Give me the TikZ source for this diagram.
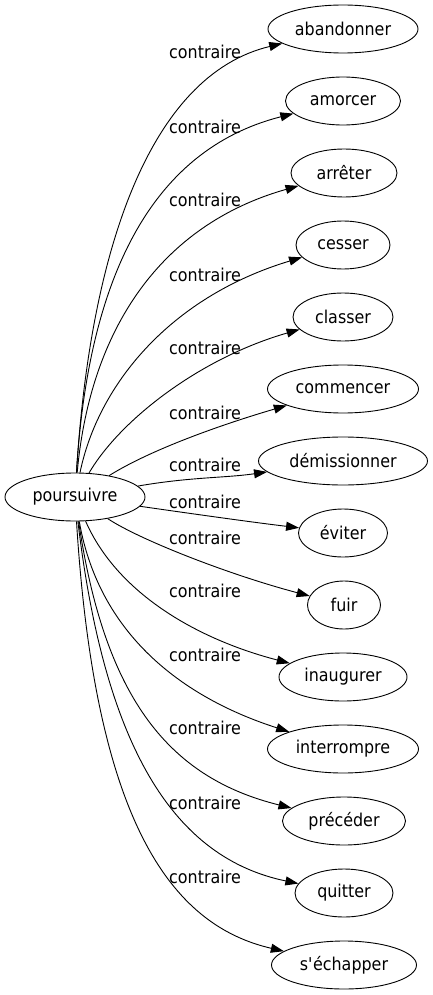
\documentclass[tikz,border=0pt]{standalone}
\usepackage{fontspec}
\setmainfont{DejaVu Sans}[FakeStretch=0.9]
\usetikzlibrary{shapes.geometric,arrows.meta}
\begin{document}
\begin{tikzpicture}[x=1pt,y=-1pt,
  every node/.style={font=\fontsize{17.7}{20}\selectfont},
  term/.style={ellipse,draw,line width=0.9pt,inner sep=0pt,minimum height=48pt},
  rel/.style={draw,line width=0.9pt,-{Triangle[length=13pt,width=9pt]}},
  lab/.style={inner sep=0pt}]
\useasboundingbox (0,0) rectangle (433,995);
\node[term,minimum width=140pt] (p) at (75,497) {poursuivre};
\node[term,minimum width=150pt] (t1) at (343,29) {abandonner};
\node[term,minimum width=115pt] (t2) at (343,101) {amorcer};
\node[term,minimum width=106pt] (t3) at (344,173) {arrêter};
\node[term,minimum width=94pt] (t4) at (343,245) {cesser};
\node[term,minimum width=100pt] (t5) at (343,317) {classer};
\node[term,minimum width=151pt] (t6) at (343,389) {commencer};
\node[term,minimum width=169pt] (t7) at (343,461) {démissionner};
\node[term,minimum width=89pt] (t8) at (343,533) {éviter};
\node[term,minimum width=73pt] (t9) at (344,605) {fuir};
\node[term,minimum width=128pt] (t10) at (343,677) {inaugurer};
\node[term,minimum width=151pt] (t11) at (343,749) {interrompre};
\node[term,minimum width=123pt] (t12) at (344,821) {précéder};
\node[term,minimum width=98pt] (t13) at (344,893) {quitter};
\node[term,minimum width=145pt] (t14) at (344,965) {s\textquotesingle échapper};
\draw[rel] (p) .. controls (90,250) and (150,75) .. (t1);
\draw[rel] (p) .. controls (88,280) and (150,150) .. (t2);
\draw[rel] (p) .. controls (90,330) and (160,225) .. (t3);
\draw[rel] (p) .. controls (98,385) and (170,297) .. (t4);
\draw[rel] (p) .. controls (120,420) and (200,358) .. (t5);
\draw[rel] (p) .. controls (150,450) and (220,425) .. (t6);
\draw[rel] (p) .. controls (190,477) and (225,478) .. (t7);
\draw[rel] (p) .. controls (180,512) and (250,522) .. (t8);
\draw[rel] (p) .. controls (140,540) and (230,575) .. (t9);
\draw[rel] (p) .. controls (118,595) and (200,640) .. (t10);
\draw[rel] (p) .. controls (100,640) and (190,700) .. (t11);
\draw[rel] (p) .. controls (105,700) and (170,778) .. (t12);
\draw[rel] (p) .. controls (105,750) and (175,858) .. (t13);
\draw[rel] (p) .. controls (95,820) and (170,925) .. (t14);
\node[lab] (l1) at (205,52) {contraire};
\node[lab] (l2) at (205,127) {contraire};
\node[lab] (l3) at (205,200) {contraire};
\node[lab] (l4) at (205,275) {contraire};
\node[lab] (l5) at (205,348) {contraire};
\node[lab] (l6) at (205,413) {contraire};
\node[lab] (l7) at (205,465) {contraire};
\node[lab] (l8) at (205,502) {contraire};
\node[lab] (l9) at (205,538) {contraire};
\node[lab] (l10) at (205,591) {contraire};
\node[lab] (l11) at (205,655) {contraire};
\node[lab] (l12) at (205,728) {contraire};
\node[lab] (l13) at (205,803) {contraire};
\node[lab] (l14) at (205,877) {contraire};
\end{tikzpicture}
\end{document}
